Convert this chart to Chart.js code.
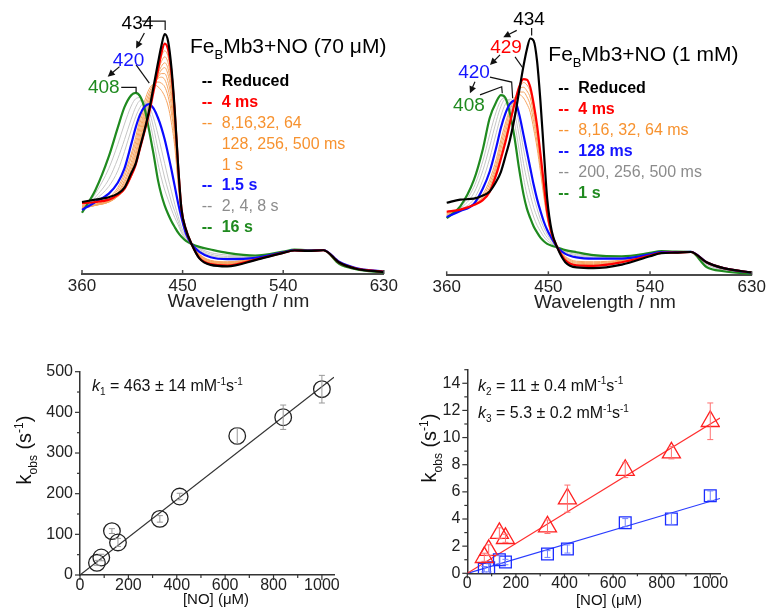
<!DOCTYPE html>
<html lang="en">
<head>
<meta charset="utf-8">
<title>FeBMb3 + NO stopped-flow</title>
<script src="https://cdn.jsdelivr.net/npm/chart.js@4.4.1/dist/chart.umd.min.js"></script>
<style>
  html, body { margin: 0; padding: 0; background: #fff; }
  #figure { position: relative; width: 771px; height: 614px; overflow: hidden; }
  #figure canvas { position: absolute; }
</style>
</head>
<body>
<div id="figure">
  <canvas id="spectra70" width="400" height="320" style="left:0;top:0"></canvas>
  <canvas id="spectra1mM" width="371" height="320" style="left:400px;top:0"></canvas>
  <canvas id="kinetics1" width="390" height="274" style="left:0;top:340px"></canvas>
  <canvas id="kinetics23" width="381" height="274" style="left:390px;top:340px"></canvas>
</div>
<script>
/* ============================================================
 * DATA : spectra (normalised absorbance) and kinetics
 * ============================================================ */
const WAVELENGTH = [360, 372, 384, 392, 398, 404, 408, 412, 416, 420, 424, 428, 431, 434, 437, 440,
                    443, 446, 449, 453, 458, 465, 475, 490, 515, 540, 550, 562, 576, 590, 605, 630];
const WAVELENGTH_TICKS = [360, 450, 540, 630];

// --- FeBMb3 + NO (70 uM) ---
const reduced70 = [0.30, 0.31, 0.32, 0.335, 0.36, 0.42, 0.46, 0.53, 0.60, 0.68, 0.78, 0.88, 0.95, 1.00, 0.97, 0.86, 0.68, 0.45, 0.27, 0.185, 0.125, 0.065, 0.038, 0.032, 0.058, 0.088, 0.098, 0.096, 0.099, 0.048, 0.022, 0.008];
const ms4_70 = [0.295, 0.30, 0.31, 0.33, 0.355, 0.41, 0.455, 0.525, 0.595, 0.67, 0.76, 0.85, 0.92, 0.96, 0.935, 0.84, 0.67, 0.45, 0.27, 0.185, 0.125, 0.067, 0.041, 0.035, 0.06, 0.088, 0.098, 0.096, 0.099, 0.048, 0.023, 0.01];
const ms8_70 = [0.287, 0.292, 0.302, 0.323, 0.352, 0.405, 0.455, 0.53, 0.60, 0.68, 0.77, 0.85, 0.905, 0.93, 0.905, 0.82, 0.66, 0.44, 0.268, 0.183, 0.125, 0.069, 0.043, 0.037, 0.061, 0.088, 0.098, 0.096, 0.099, 0.048, 0.023, 0.01];
const ms16_70 = [0.284, 0.29, 0.30, 0.323, 0.355, 0.415, 0.47, 0.545, 0.62, 0.695, 0.775, 0.845, 0.885, 0.905, 0.88, 0.80, 0.645, 0.435, 0.265, 0.181, 0.125, 0.071, 0.045, 0.039, 0.062, 0.088, 0.098, 0.096, 0.099, 0.048, 0.023, 0.01];
const ms32_70 = [0.281, 0.288, 0.30, 0.325, 0.36, 0.425, 0.48, 0.555, 0.635, 0.705, 0.775, 0.835, 0.865, 0.88, 0.855, 0.78, 0.63, 0.43, 0.262, 0.179, 0.125, 0.073, 0.047, 0.041, 0.062, 0.088, 0.098, 0.096, 0.099, 0.048, 0.023, 0.01];
const ms64_70 = [0.279, 0.287, 0.30, 0.33, 0.37, 0.435, 0.495, 0.57, 0.65, 0.715, 0.775, 0.825, 0.85, 0.86, 0.83, 0.755, 0.615, 0.42, 0.258, 0.177, 0.125, 0.075, 0.049, 0.043, 0.063, 0.088, 0.098, 0.096, 0.099, 0.048, 0.023, 0.01];
const ms128_70 = [0.277, 0.286, 0.302, 0.335, 0.38, 0.45, 0.51, 0.59, 0.665, 0.725, 0.78, 0.82, 0.835, 0.835, 0.80, 0.73, 0.60, 0.41, 0.255, 0.175, 0.125, 0.077, 0.051, 0.045, 0.063, 0.088, 0.098, 0.096, 0.099, 0.048, 0.023, 0.01];
const ms256_70 = [0.275, 0.286, 0.305, 0.34, 0.39, 0.465, 0.53, 0.61, 0.68, 0.74, 0.785, 0.815, 0.82, 0.81, 0.77, 0.70, 0.58, 0.40, 0.25, 0.173, 0.125, 0.079, 0.053, 0.047, 0.064, 0.088, 0.098, 0.096, 0.099, 0.048, 0.023, 0.01];
const ms500_70 = [0.274, 0.286, 0.31, 0.35, 0.405, 0.485, 0.55, 0.63, 0.70, 0.755, 0.79, 0.80, 0.795, 0.78, 0.74, 0.67, 0.56, 0.39, 0.245, 0.171, 0.125, 0.081, 0.055, 0.049, 0.064, 0.088, 0.098, 0.096, 0.099, 0.048, 0.023, 0.01];
const s1_70 = [0.272, 0.288, 0.318, 0.36, 0.42, 0.50, 0.57, 0.65, 0.72, 0.77, 0.79, 0.78, 0.765, 0.74, 0.70, 0.63, 0.53, 0.375, 0.24, 0.169, 0.125, 0.083, 0.057, 0.051, 0.065, 0.088, 0.098, 0.096, 0.099, 0.048, 0.023, 0.01];
const s1_5_70 = [0.267, 0.30, 0.335, 0.38, 0.44, 0.54, 0.61, 0.665, 0.697, 0.708, 0.69, 0.65, 0.61, 0.56, 0.50, 0.435, 0.365, 0.295, 0.235, 0.168, 0.125, 0.092, 0.07, 0.062, 0.067, 0.09, 0.099, 0.097, 0.1, 0.051, 0.025, 0.01];
const s2_70 = [0.265, 0.31, 0.365, 0.43, 0.51, 0.60, 0.655, 0.695, 0.713, 0.70, 0.65, 0.58, 0.52, 0.46, 0.40, 0.345, 0.29, 0.24, 0.195, 0.155, 0.125, 0.098, 0.077, 0.068, 0.069, 0.09, 0.1, 0.097, 0.1, 0.048, 0.023, 0.009];
const s4_70 = [0.262, 0.32, 0.395, 0.48, 0.56, 0.645, 0.695, 0.722, 0.715, 0.68, 0.61, 0.52, 0.46, 0.40, 0.35, 0.30, 0.26, 0.22, 0.18, 0.148, 0.125, 0.103, 0.083, 0.073, 0.071, 0.09, 0.1, 0.097, 0.1, 0.047, 0.022, 0.008];
const s8_70 = [0.258, 0.335, 0.44, 0.54, 0.625, 0.70, 0.73, 0.735, 0.71, 0.65, 0.56, 0.46, 0.40, 0.35, 0.31, 0.27, 0.235, 0.205, 0.172, 0.142, 0.125, 0.107, 0.089, 0.079, 0.073, 0.091, 0.1, 0.097, 0.1, 0.046, 0.021, 0.008];
const s16_70 = [0.255, 0.35, 0.49, 0.61, 0.695, 0.745, 0.755, 0.74, 0.69, 0.60, 0.50, 0.39, 0.33, 0.285, 0.25, 0.22, 0.195, 0.172, 0.155, 0.138, 0.125, 0.113, 0.102, 0.088, 0.077, 0.093, 0.102, 0.099, 0.1, 0.042, 0.02, 0.006];

// --- FeBMb3 + NO (1 mM) ---
const reduced1mM = [0.305, 0.318, 0.322, 0.335, 0.352, 0.395, 0.435, 0.50, 0.57, 0.66, 0.77, 0.88, 0.95, 0.995, 0.985, 0.90, 0.73, 0.52, 0.32, 0.185, 0.115, 0.055, 0.033, 0.03, 0.045, 0.08, 0.093, 0.095, 0.098, 0.055, 0.03, 0.012];
const ms4_1mM = [0.267, 0.276, 0.295, 0.316, 0.35, 0.425, 0.49, 0.56, 0.64, 0.72, 0.79, 0.824, 0.822, 0.79, 0.72, 0.63, 0.51, 0.385, 0.265, 0.175, 0.117, 0.063, 0.042, 0.04, 0.055, 0.083, 0.094, 0.095, 0.098, 0.055, 0.03, 0.012];
const ms8_1mM = [0.264, 0.275, 0.296, 0.32, 0.36, 0.44, 0.51, 0.58, 0.655, 0.725, 0.785, 0.81, 0.80, 0.77, 0.70, 0.61, 0.495, 0.375, 0.26, 0.172, 0.117, 0.067, 0.047, 0.045, 0.058, 0.084, 0.095, 0.096, 0.099, 0.055, 0.03, 0.012];
const ms16_1mM = [0.26, 0.274, 0.297, 0.325, 0.37, 0.455, 0.53, 0.60, 0.67, 0.73, 0.78, 0.79, 0.775, 0.745, 0.675, 0.585, 0.475, 0.36, 0.252, 0.17, 0.117, 0.071, 0.051, 0.049, 0.06, 0.084, 0.095, 0.096, 0.099, 0.055, 0.03, 0.012];
const ms32_1mM = [0.256, 0.273, 0.298, 0.33, 0.385, 0.47, 0.55, 0.62, 0.69, 0.74, 0.77, 0.77, 0.75, 0.715, 0.645, 0.56, 0.455, 0.345, 0.246, 0.168, 0.117, 0.075, 0.055, 0.053, 0.062, 0.085, 0.096, 0.096, 0.099, 0.055, 0.03, 0.012];
const ms64_1mM = [0.252, 0.272, 0.30, 0.34, 0.40, 0.49, 0.57, 0.64, 0.70, 0.745, 0.76, 0.745, 0.72, 0.685, 0.615, 0.535, 0.435, 0.33, 0.24, 0.165, 0.117, 0.079, 0.059, 0.057, 0.064, 0.086, 0.096, 0.097, 0.099, 0.055, 0.03, 0.011];
const ms128_1mM = [0.245, 0.27, 0.30, 0.365, 0.435, 0.54, 0.62, 0.68, 0.72, 0.734, 0.68, 0.59, 0.52, 0.45, 0.38, 0.32, 0.27, 0.225, 0.19, 0.155, 0.117, 0.09, 0.075, 0.07, 0.07, 0.088, 0.097, 0.097, 0.099, 0.055, 0.03, 0.011];
const ms200_1mM = [0.244, 0.275, 0.32, 0.40, 0.49, 0.60, 0.67, 0.72, 0.74, 0.72, 0.64, 0.53, 0.46, 0.39, 0.33, 0.28, 0.235, 0.20, 0.172, 0.145, 0.117, 0.095, 0.082, 0.076, 0.073, 0.09, 0.099, 0.098, 0.1, 0.05, 0.025, 0.009];
const ms256_1mM = [0.243, 0.28, 0.345, 0.44, 0.54, 0.65, 0.71, 0.74, 0.73, 0.68, 0.59, 0.47, 0.40, 0.34, 0.285, 0.245, 0.21, 0.18, 0.158, 0.138, 0.117, 0.099, 0.087, 0.08, 0.075, 0.09, 0.099, 0.098, 0.1, 0.048, 0.024, 0.009];
const ms500_1mM = [0.242, 0.285, 0.37, 0.48, 0.59, 0.69, 0.735, 0.745, 0.71, 0.64, 0.53, 0.41, 0.34, 0.29, 0.245, 0.21, 0.185, 0.162, 0.146, 0.132, 0.117, 0.103, 0.092, 0.084, 0.077, 0.091, 0.1, 0.099, 0.1, 0.045, 0.022, 0.008];
const s1_1mM = [0.24, 0.29, 0.40, 0.53, 0.66, 0.73, 0.757, 0.745, 0.68, 0.58, 0.45, 0.34, 0.28, 0.24, 0.205, 0.18, 0.158, 0.143, 0.132, 0.124, 0.117, 0.106, 0.097, 0.085, 0.08, 0.094, 0.102, 0.1, 0.099, 0.035, 0.017, 0.006];

// --- Legend entries ---
const legend70Text = ['Reduced', '4 ms', '8,16,32, 64', '128, 256, 500 ms', '1 s', '1.5 s', '2, 4, 8 s', '16 s'];
const legend70Kind = ['black', 'red', 'orange', 'orange', 'orange', 'blue', 'gray', 'green'];
const legend70Dash = [true, true, true, false, false, true, true, true];
const legend1mMText = ['Reduced', '4 ms', '8,16, 32, 64 ms', '128 ms', '200, 256, 500 ms', '1 s'];
const legend1mMKind = ['black', 'red', 'orange', 'blue', 'gray', 'green'];

// --- Kinetics: k_obs vs [NO] ---
const noConc = [70, 88, 132, 157, 330, 412, 650, 840, 1000];   // uM
const k1Obs = [30, 43, 108, 80, 138, 193, 342, 388, 457];
const k1Err = [6, 8, 6, 10, 8, 8, 20, 30, 34];
const k2Obs = [1.18, 1.7, 2.95, 2.58, 3.43, 5.5, 7.6, 8.88, 11.2];
const k2Err = [0.3, 0.4, 0.4, 0.3, 0.5, 1.0, 0.55, 0.45, 1.35];
const k3Obs = [0.3, 0.4, 1.0, 0.83, 1.42, 1.79, 3.73, 4.0, 5.72];
const k3Err = [0.2, 0.3, 0.3, 0.2, 0.25, 0.3, 0.3, 0.4, 0.35];
// fitted second-order rate constants (mM-1 s-1)
const K1 = 463, K1_ERR = 14;
const K2 = 11, K2_ERR = 0.4;
const K3 = 5.3, K3_ERR = 0.2;

/* ============================================================
 * STYLES & HELPERS
 * ============================================================ */
const FONT = "'Liberation Sans', Arial, Helvetica, sans-serif";
Chart.defaults.font.family = FONT;
Chart.defaults.color = '#222';

const LINE = { black: '#000000', red: '#ff0000', orange: '#f6a460', blue: '#0a0aff', gray: '#c6c6c6', green: '#1f8a1f' };
const TEXT = { black: '#000000', red: '#ff0000', orange: '#f7922f', blue: '#1515ff', gray: '#8c8c8c', green: '#1f8a1f' };
const AXIS_COLOR = '#4a4a4a';

// draws text made of runs: {t, it, sub, sup}; y is the baseline
function drawRich(ctx, parts, x, y, size, color, align) {
  const small = Math.round(size * 0.62);
  const fontOf = p => `${p.it ? 'italic ' : ''}${(p.sub || p.sup) ? small : size}px ${FONT}`;
  let width = 0;
  parts.forEach(p => { ctx.font = fontOf(p); width += ctx.measureText(p.t).width; });
  let cx = align === 'center' ? x - width / 2 : x;
  ctx.fillStyle = color;
  ctx.textAlign = 'left';
  ctx.textBaseline = 'alphabetic';
  parts.forEach(p => {
    ctx.font = fontOf(p);
    const dy = p.sub ? size * 0.28 : (p.sup ? -size * 0.4 : 0);
    ctx.fillText(p.t, cx, y + dy);
    cx += ctx.measureText(p.t).width;
  });
}

function drawArrow(ctx, x0, y0, x1, y1) {
  const a = Math.atan2(y1 - y0, x1 - x0), h = 7, w = 3.5;
  ctx.beginPath();
  ctx.moveTo(x0, y0);
  ctx.lineTo(x1 - h * 0.7 * Math.cos(a), y1 - h * 0.7 * Math.sin(a));
  ctx.stroke();
  ctx.beginPath();
  ctx.moveTo(x1, y1);
  ctx.lineTo(x1 - h * Math.cos(a) + w * Math.sin(a), y1 - h * Math.sin(a) - w * Math.cos(a));
  ctx.lineTo(x1 - h * Math.cos(a) - w * Math.sin(a), y1 - h * Math.sin(a) + w * Math.cos(a));
  ctx.closePath();
  ctx.fill();
}

// tick marks (major from the scale, optional minor), in or out of the plot
const tickMarks = {
  id: 'tickMarks',
  afterDraw(chart, args, opts) {
    const { ctx, chartArea } = chart;
    ctx.save();
    ctx.strokeStyle = opts.color;
    ctx.lineWidth = opts.width;
    Object.keys(opts.axes).forEach(id => {
      const cfg = opts.axes[id], s = chart.scales[id];
      const marks = s.ticks.map(t => [t.value, cfg.length]);
      if (cfg.minor) {
        for (let k = 0; s.min + k * cfg.minor <= s.max + 1e-9; k++) {
          const v = s.min + k * cfg.minor;
          if (!s.ticks.some(t => Math.abs(t.value - v) < 1e-9)) marks.push([v, cfg.minorLength]);
        }
      }
      marks.forEach(([v, len]) => {
        const p = s.getPixelForValue(v);
        ctx.beginPath();
        if (s.isHorizontal()) {
          ctx.moveTo(p, chartArea.bottom);
          ctx.lineTo(p, chartArea.bottom + cfg.dir * len);
        } else {
          ctx.moveTo(chartArea.left, p);
          ctx.lineTo(chartArea.left - cfg.dir * len, p);
        }
        ctx.stroke();
      });
    });
    ctx.restore();
  }
};

// peak labels, leader lines, arrows, title and legend of a spectra panel
const spectrumLabels = {
  id: 'spectrumLabels',
  afterDatasetsDraw(chart, args, opts) {
    const { ctx, scales: { x, y } } = chart;
    const X = v => x.getPixelForValue(v), Y = v => y.getPixelForValue(v);
    ctx.save();
    ctx.strokeStyle = '#111';
    ctx.fillStyle = '#111';
    ctx.lineWidth = 1.2;
    opts.leaders.forEach(pts => {
      ctx.beginPath();
      pts.forEach((p, i) => i ? ctx.lineTo(X(p[0]), Y(p[1])) : ctx.moveTo(X(p[0]), Y(p[1])));
      ctx.stroke();
    });
    opts.arrows.forEach(a => drawArrow(ctx, X(a[0]), Y(a[1]), X(a[2]), Y(a[3])));
    ctx.font = `19px ${FONT}`;
    ctx.textAlign = 'center';
    ctx.textBaseline = 'middle';
    opts.peaks.forEach(p => {
      ctx.fillStyle = TEXT[p.kind];
      ctx.fillText(p.text, X(p.at[0]), Y(p.at[1]));
    });
    drawRich(ctx, opts.title.parts, opts.title.x, opts.title.y, 21, '#000', 'left');
    ctx.textBaseline = 'middle';
    const lg = opts.legend;
    lg.text.forEach((label, i) => {
      const kind = lg.kind[i], bold = kind !== 'orange' && kind !== 'gray';
      const yy = lg.top + i * lg.step;
      ctx.font = `${bold ? 'bold ' : ''}16px ${FONT}`;
      ctx.fillStyle = TEXT[kind];
      ctx.textAlign = 'left';
      if (!lg.dash || lg.dash[i]) ctx.fillText('--', lg.dashX, yy);
      ctx.fillText(label, lg.textX, yy);
    });
    ctx.font = `19px ${FONT}`;
    ctx.fillStyle = '#222';
    ctx.textAlign = 'center';
    ctx.textBaseline = 'middle';
    ctx.fillText('Wavelength / nm', X(500), opts.axisTitleY);
    ctx.restore();
  }
};

// free text on the kinetics panels (axis titles, rate constants)
const panelText = {
  id: 'panelText',
  afterDraw(chart, args, opts) {
    const { ctx } = chart;
    opts.items.forEach(it => {
      ctx.save();
      if (it.rotate) {
        ctx.translate(it.x, it.y);
        ctx.rotate(-Math.PI / 2);
        drawRich(ctx, it.parts, 0, 0, it.size, it.color || '#111', it.align);
      } else {
        drawRich(ctx, it.parts, it.x, it.y, it.size, it.color || '#111', it.align);
      }
      ctx.restore();
    });
  }
};

// error bars drawn from dataset.errors
const errorBars = {
  id: 'errorBars',
  afterDatasetsDraw(chart) {
    const { ctx, scales: { x, y } } = chart;
    chart.data.datasets.forEach(ds => {
      if (!ds.errors) return;
      ctx.save();
      ctx.strokeStyle = ds.errorColor;
      ctx.lineWidth = 1;
      ds.data.forEach((pt, i) => {
        const px = x.getPixelForValue(pt.x);
        const top = y.getPixelForValue(pt.y + ds.errors[i]);
        const bot = y.getPixelForValue(pt.y - ds.errors[i]);
        ctx.beginPath();
        ctx.moveTo(px, top); ctx.lineTo(px, bot);
        ctx.moveTo(px - 3, top); ctx.lineTo(px + 3, top);
        ctx.moveTo(px - 3, bot); ctx.lineTo(px + 3, bot);
        ctx.stroke();
      });
      ctx.restore();
    });
  }
};

/* ============================================================
 * SPECTRA PANELS
 * ============================================================ */
function trace(values, kind) {
  const key = kind === 'black' ? 0 : kind === 'red' ? 1 : kind === 'blue' ? 2 : kind === 'green' ? 3 : kind === 'gray' ? 4 : 5;
  return {
    data: WAVELENGTH.map((w, i) => ({ x: w, y: values[i] })),
    borderColor: LINE[kind],
    borderWidth: key < 4 ? 2.2 : 1,
    order: key,
    pointRadius: 0,
    fill: false,
    clip: false,
    cubicInterpolationMode: 'monotone'
  };
}

function spectrumChart(canvasId, traces, padding, axisHeight, labels) {
  return new Chart(document.getElementById(canvasId), {
    type: 'line',
    data: { datasets: traces },
    options: {
      responsive: false,
      animation: false,
      events: [],
      layout: { padding },
      plugins: {
        legend: { display: false },
        tooltip: { enabled: false },
        tickMarks: { color: AXIS_COLOR, width: 1.5, axes: { x: { length: 4, dir: -1 } } },
        spectrumLabels: labels
      },
      scales: {
        x: {
          type: 'linear', min: 360, max: 630,
          afterBuildTicks: s => { s.ticks = WAVELENGTH_TICKS.map(v => ({ value: v })); },
          afterFit: s => { s.height = axisHeight; },
          grid: { display: true, drawOnChartArea: false, drawTicks: false },
          border: { display: true, color: AXIS_COLOR, width: 2 },
          ticks: { font: { size: 17 }, color: '#222', padding: 2, maxRotation: 0, autoSkip: false }
        },
        y: { display: false, min: 0, max: 1 }
      }
    },
    plugins: [tickMarks, spectrumLabels]
  });
}

spectrumChart('spectra70', [
  trace(ms8_70, 'orange'), trace(ms16_70, 'orange'), trace(ms32_70, 'orange'), trace(ms64_70, 'orange'),
  trace(ms128_70, 'orange'), trace(ms256_70, 'orange'), trace(ms500_70, 'orange'), trace(s1_70, 'orange'),
  trace(s2_70, 'gray'), trace(s4_70, 'gray'), trace(s8_70, 'gray'),
  trace(s16_70, 'green'), trace(s1_5_70, 'blue'), trace(ms4_70, 'red'), trace(reduced70, 'black')
], { left: 82, right: 13, top: 34, bottom: 0 }, 46, {
  peaks: [
    { text: '434', kind: 'black', at: [409.6, 1.042] },
    { text: '420', kind: 'blue', at: [401.6, 0.888] },
    { text: '408', kind: 'green', at: [379.5, 0.775] }
  ],
  leaders: [
    [[413.7, 1.054], [434.4, 1.054], [434.4, 1.017]],
    [[408.4, 0.871], [420.2, 0.795]],
    [[395.1, 0.778], [408.4, 0.778], [408.4, 0.756]]
  ],
  arrows: [[415.8, 1.004, 408.4, 0.94], [393.6, 0.864, 383, 0.822]],
  title: { parts: [{ t: 'Fe' }, { t: 'B', sub: true }, { t: 'Mb3+NO (70 \u03bcM)' }], x: 190, y: 52.7 },
  legend: { text: legend70Text, kind: legend70Kind, dash: legend70Dash, dashX: 201.7, textX: 221.7, top: 82, step: 20.8 },
  axisTitleY: 302
});

spectrumChart('spectra1mM', [
  trace(ms8_1mM, 'orange'), trace(ms16_1mM, 'orange'), trace(ms32_1mM, 'orange'), trace(ms64_1mM, 'orange'),
  trace(ms200_1mM, 'gray'), trace(ms256_1mM, 'gray'), trace(ms500_1mM, 'gray'),
  trace(s1_1mM, 'green'), trace(ms128_1mM, 'blue'), trace(ms4_1mM, 'red'), trace(reduced1mM, 'black')
], { left: 46.7, right: 19.3, top: 37.3, bottom: 0 }, 44.7, {
  peaks: [
    { text: '434', kind: 'black', at: [432.9, 1.073] },
    { text: '429', kind: 'red', at: [412.5, 0.957] },
    { text: '420', kind: 'blue', at: [384.2, 0.852] },
    { text: '408', kind: 'green', at: [379.7, 0.713] }
  ],
  leaders: [
    [[435.2, 1.039], [435.2, 1.008]],
    [[420.5, 0.918], [427.1, 0.873]],
    [[398.3, 0.833], [417.5, 0.812], [418.4, 0.744]],
    [[389.5, 0.758], [408.7, 0.792], [409.2, 0.765]]
  ],
  arrows: [[422, 1.029, 410.1, 1.0], [407.2, 0.926, 398.3, 0.884], [385, 0.813, 380.6, 0.765]],
  title: { parts: [{ t: 'Fe' }, { t: 'B', sub: true }, { t: 'Mb3+NO (1 mM)' }], x: 148.3, y: 60.7 },
  legend: { text: legend1mMText, kind: legend1mMKind, dashX: 158.3, textX: 178.3, top: 88.5, step: 21 },
  axisTitleY: 303
});

/* ============================================================
 * KINETICS PANELS
 * ============================================================ */
const points = (xs, ys) => xs.map((x, i) => ({ x, y: ys[i] }));
const fitLine = (k, xMax) => [{ x: 0, y: 0 }, { x: xMax, y: k * xMax / 1000 }];   // k in mM-1 s-1, x in uM
const kobsTitle = [{ t: 'k' }, { t: 'obs', sub: true }, { t: ' (s' }, { t: '-1', sup: true }, { t: ')' }];
const rateText = (n, k, err) => [{ t: 'k', it: true }, { t: String(n), sub: true }, { t: ` = ${k} \u00b1 ${err} mM` },
  { t: '-1', sup: true }, { t: 's' }, { t: '-1', sup: true }];
// explicit major ticks 0, step, 2*step ... up to the axis maximum
const ticksEvery = step => s => {
  s.ticks = [];
  for (let k = 0; k * step <= s.max + 1e-9; k++) s.ticks.push({ value: k * step });
};

function kineticsChart(canvasId, datasets, cfg) {
  return new Chart(document.getElementById(canvasId), {
    type: 'line',
    data: { datasets },
    options: {
      responsive: false,
      animation: false,
      events: [],
      layout: { padding: cfg.padding },
      plugins: {
        legend: { display: false },
        tooltip: { enabled: false },
        tickMarks: { color: '#333', width: 1.2, axes: {
          x: { length: 5, minorLength: 3, minor: cfg.xMinor, dir: 1 },
          y: { length: 5, minorLength: 3, minor: cfg.yMinor, dir: 1 } } },
        panelText: { items: cfg.texts }
      },
      scales: {
        x: {
          type: 'linear', min: 0, max: cfg.xMax,
          afterBuildTicks: ticksEvery(200),
          afterFit: s => { s.height = cfg.xHeight; },
          grid: { display: true, drawOnChartArea: false, drawTicks: false },
          border: { display: true, color: '#333', width: 1.5 },
          ticks: { font: { size: 16 }, color: '#222', padding: 1, maxRotation: 0, autoSkip: false,
                   callback: v => String(v) }
        },
        y: {
          min: 0, max: cfg.yMax,
          afterBuildTicks: ticksEvery(cfg.yStep),
          afterFit: s => { s.width = cfg.yWidth; },
          grid: { display: true, drawOnChartArea: false, drawTicks: false },
          border: { display: true, color: '#333', width: 1.5 },
          ticks: { font: { size: 16 }, color: '#222', padding: 7, autoSkip: false, callback: v => String(v) }
        }
      }
    },
    plugins: [tickMarks, errorBars, panelText]
  });
}

kineticsChart('kinetics1', [
  { data: fitLine(K1, 1050), borderColor: '#333', borderWidth: 1.2, pointRadius: 0, order: 1 },
  { data: points(noConc, k1Obs), showLine: false, pointStyle: 'circle', pointRadius: 8.3,
    pointBorderColor: '#222', pointBackgroundColor: 'rgba(0,0,0,0)', pointBorderWidth: 1.3,
    errors: k1Err, errorColor: '#999', order: 0 }
], {
  padding: { left: 0, right: 56, top: 31.7, bottom: 0 }, xHeight: 39, yWidth: 80,
  xMax: 1050, yMax: 500, yStep: 100, xMinor: 100, yMinor: 50,
  texts: [
    { parts: kobsTitle, x: 31, y: 110, size: 20, rotate: true, align: 'center' },
    { parts: [{ t: '[NO] (\u03bcM)' }], x: 216, y: 264, size: 15, align: 'center' },
    { parts: rateText(1, K1, K1_ERR), x: 92, y: 51, size: 16, align: 'left' }
  ]
});

kineticsChart('kinetics23', [
  { data: fitLine(K2, 1040), borderColor: '#ff3030', borderWidth: 1.2, pointRadius: 0, order: 2 },
  { data: fitLine(K3, 1040), borderColor: '#2a3cff', borderWidth: 1.2, pointRadius: 0, order: 3 },
  { data: points(noConc, k2Obs), showLine: false, pointStyle: 'triangle', pointRadius: 10.4,
    pointBorderColor: '#ff2020', pointBackgroundColor: 'rgba(0,0,0,0)', pointBorderWidth: 1.3,
    errors: k2Err, errorColor: '#ff7070', order: 0 },
  { data: points(noConc, k3Obs), showLine: false, pointStyle: 'rect', pointRadius: 8.3,
    pointBorderColor: '#1a2cff', pointBackgroundColor: 'rgba(0,0,0,0)', pointBorderWidth: 1.3,
    errors: k3Err, errorColor: '#7080ff', order: 1 }
], {
  padding: { left: 0, right: 51, top: 29.7, bottom: 0 }, xHeight: 40.7, yWidth: 77.3,
  xMax: 1040, yMax: 15, yStep: 2, xMinor: 100, yMinor: 1,
  texts: [
    { parts: kobsTitle, x: 46, y: 108, size: 20, rotate: true, align: 'center' },
    { parts: [{ t: '[NO] (\u03bcM)' }], x: 219, y: 265, size: 15, align: 'center' },
    { parts: rateText(2, K2, K2_ERR), x: 88, y: 50.6, size: 16, align: 'left' },
    { parts: rateText(3, K3, K3_ERR), x: 88, y: 78, size: 16, align: 'left' }
  ]
});
</script>
</body>
</html>
